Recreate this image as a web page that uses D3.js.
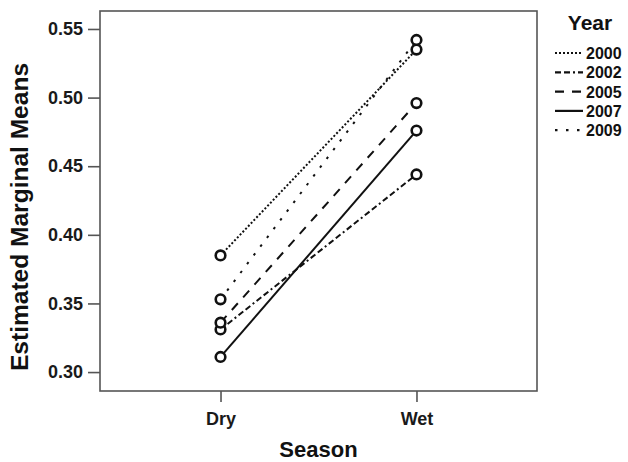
<!DOCTYPE html>
<html>
<head>
<meta charset="utf-8">
<script src="https://cdn.jsdelivr.net/npm/d3@7"></script>
<style>
  body { margin: 0; background: #fff; }
  svg { display: block; font-family: "Liberation Sans", Arial, sans-serif; }
</style>
</head>
<body>
<svg id="chart"></svg>
<script>
// Daten
const seasons  = ["Dry", "Wet"];
const years    = ["2000", "2002", "2005", "2007", "2009"];
const dryMeans = [0.385, 0.331, 0.336, 0.311, 0.353];
const wetMeans = [0.535, 0.444, 0.496, 0.476, 0.542];
const yTicks   = [0.30, 0.35, 0.40, 0.45, 0.50, 0.55];

// Linienstile pro Jahr
const dashes = ["2,2", "6,3,6,3,2,3", "9,8", null, "2.5,8.5"];

const width = 628, height = 462;
const frame = { left: 100, right: 537, top: 11, bottom: 391 };

const svg = d3.select("#chart")
  .attr("width", width)
  .attr("height", height);

const x = d3.scalePoint()
  .domain(seasons)
  .range([frame.left, frame.right])
  .padding(0.615);

const y = d3.scaleLinear()
  .domain([0.2862, 0.5631])
  .range([frame.bottom, frame.top]);

// Rahmen
svg.append("rect")
  .attr("x", frame.left).attr("y", frame.top)
  .attr("width", frame.right - frame.left)
  .attr("height", frame.bottom - frame.top)
  .attr("fill", "none")
  .attr("stroke", "#555")
  .attr("stroke-width", 1.6);

// Y-Achse
const yAxis = svg.append("g")
  .attr("transform", `translate(${frame.left},0)`)
  .call(d3.axisLeft(y).tickValues(yTicks).tickFormat(d3.format(".2f")).tickSize(12).tickPadding(5));
yAxis.select(".domain").remove();
yAxis.selectAll(".tick line").attr("stroke", "#555").attr("stroke-width", 1.6);
yAxis.selectAll(".tick text")
  .attr("font-size", "18px").attr("font-weight", "bold")
  .attr("fill", "#1a1a1a").attr("font-family", "Liberation Sans, Arial, sans-serif");

// X-Achse
const xAxis = svg.append("g")
  .attr("transform", `translate(0,${frame.bottom})`)
  .call(d3.axisBottom(x).tickSize(11).tickPadding(10));
xAxis.select(".domain").remove();
xAxis.selectAll(".tick line").attr("stroke", "#555").attr("stroke-width", 1.6);
xAxis.selectAll(".tick text")
  .attr("font-size", "18px").attr("font-weight", "bold")
  .attr("fill", "#1a1a1a").attr("font-family", "Liberation Sans, Arial, sans-serif");

// Achsentitel
svg.append("text")
  .attr("x", (frame.left + frame.right) / 2)
  .attr("y", 457)
  .attr("text-anchor", "middle")
  .attr("font-size", "22px").attr("font-weight", "bold")
  .attr("fill", "#111")
  .text("Season");

svg.append("text")
  .attr("transform", "translate(28,217) rotate(-90)")
  .attr("text-anchor", "middle")
  .attr("font-size", "23px").attr("font-weight", "bold")
  .attr("textLength", 308)
  .attr("lengthAdjust", "spacingAndGlyphs")
  .attr("fill", "#111")
  .text("Estimated Marginal Means");

// Linien und Punkte
const series = years.map((yr, i) => ({
  year: yr,
  dash: dashes[i],
  values: [dryMeans[i], wetMeans[i]]
}));

const line = d3.line()
  .x((d, i) => x(seasons[i]))
  .y(d => y(d));

svg.append("g").selectAll("path")
  .data(series)
  .join("path")
  .attr("d", d => line(d.values))
  .attr("fill", "none")
  .attr("stroke", "#111")
  .attr("stroke-width", 2)
  .attr("stroke-dasharray", d => d.dash);

svg.append("g").selectAll("g")
  .data(series)
  .join("g")
  .selectAll("circle")
  .data(d => d.values)
  .join("circle")
  .attr("cx", (d, i) => x(seasons[i]))
  .attr("cy", d => y(d))
  .attr("r", 4.8)
  .attr("fill", "#fff")
  .attr("stroke", "#111")
  .attr("stroke-width", 2.6);

// Legende
const legend = svg.append("g");
legend.append("text")
  .attr("x", 590).attr("y", 30)
  .attr("text-anchor", "middle")
  .attr("font-size", "21px").attr("font-weight", "bold")
  .attr("fill", "#111")
  .text("Year");

const rows = legend.selectAll("g.row")
  .data(series)
  .join("g")
  .attr("class", "row")
  .attr("transform", (d, i) => `translate(0,${53 + i * 19.3})`);

rows.append("line")
  .attr("x1", 555).attr("x2", 583)
  .attr("stroke", "#111")
  .attr("stroke-width", 2.2)
  .attr("stroke-dasharray", d => d.dash);

rows.append("text")
  .attr("x", 586).attr("y", 6)
  .attr("font-size", "16px").attr("font-weight", "bold")
  .attr("fill", "#111")
  .text(d => d.year);
</script>
</body>
</html>
